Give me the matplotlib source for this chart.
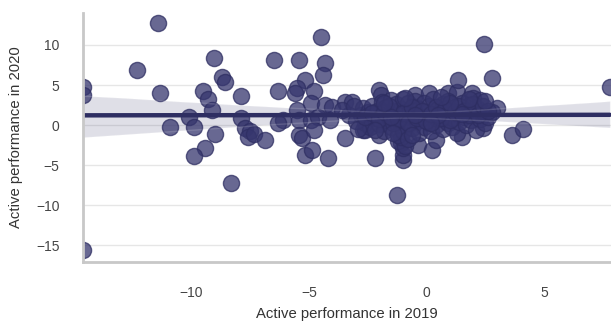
import matplotlib
matplotlib.use("Agg")
import matplotlib.pyplot as plt
import seaborn as sns
import pandas as pd

# active performance per fund, 2019 vs 2020
perf_2019 = [
    -14.6, -14.6, -14.6,
    -11.4, -12.3, -11.35, -10.9,
    -9.05, -8.7, -8.55, -9.5, -9.3, -9.1,
    -10.1, -9.9, -9.0, -9.4, -9.9, -8.3,
    -7.9, -7.9, -7.7, -7.5, -7.6, -7.35, -6.85,
    -6.5, -6.3, -5.4, -4.5, -4.3, -4.4,
    -5.15, -5.5, -5.6, -4.8, -4.9, -4.3, -4.0,
    -3.45, -3.15, -5.5, -6.1, -6.3, -5.4, -4.9, -4.6,
    -5.4, -5.3, -4.8, -4.1, -3.45, -5.15, -4.85, -4.2,
    -2.7, -2.6, -2.0, -2.2, -1.0, -1.0, -1.23, -1.1,
    -2.0, -1.95, -0.5, 0.1, 0.9, 1.3, 1.95, 2.0,
    1.36, 2.47, 2.77, 3.0, 2.4, 3.66, 4.1, 7.8,
    -0.35, 0.25, 0.4, 1.5, -1.0, -1.2, -0.9, -1.1,
    -2.8, -2.7, -2.6, -2.5, -2.4, -2.3, -2.2, -2.1, -2.0, -1.9,
    -1.9, -1.8, -1.7, -1.7, -1.6, -1.5, -1.5, -1.4, -1.3, -1.3,
    -1.2, -1.2, -1.1, -1.1, -1.0, -1.0, -0.9, -0.9, -0.8, -0.8,
    -0.7, -0.7, -0.6, -0.6, -0.5, -0.5, -0.4, -0.4, -0.3, -0.3,
    -0.2, -0.1, -0.1, 0.0, 0.1, 0.1, 0.2, 0.3, 0.3, 0.4,
    0.5, 0.5, 0.6, 0.7, 0.7, 0.8, 0.9, 0.9, 1.0, 1.1,
    1.1, 1.2, 1.3, 1.3, 1.4, 1.5, 1.6, 1.7, 1.7, 1.8,
    1.9, 2.0, 2.1, 2.2, 2.3, 2.4, 2.5, 2.6, 2.8, 2.3,
    -3.3, -3.0, -2.9, -3.6, -3.1,
    -2.6, -2.3, -2.0, -1.8, -1.6, -1.4, -1.2, -1.0, -0.8, -0.6,
    -0.4, -0.2, 0.0, 0.2, 0.4, 0.6, 0.8, 1.0, 1.2, 1.4,
    1.6, 1.8, 2.0, 2.2, 2.4, 2.6, -1.5, -0.5, 0.5, 1.5,
    -2.2, -1.4, -0.6, 0.2, 1.0, 1.8, 2.5, -1.8, -0.9, 0.6,
]
perf_2020 = [
    4.75, 3.75, -15.6,
    12.75, 6.9, 4.0, -0.25,
    8.4, 6.0, 5.4, 4.25, 3.25, 1.9,
    1.0, -0.25, -1.1, -2.9, -3.9, -7.25,
    3.6, 0.9, -0.4, -0.7, -1.5, -1.1, -1.9,
    8.1, 4.25, 8.1, 11.0, 7.75, 6.25,
    5.6, 4.6, 4.0, 4.25, 2.75, 2.5, 2.25,
    2.9, 2.9, 1.9, 0.6, 0.25, 0.6, 0.6, 1.0,
    -1.25, -1.6, -0.6, 0.6, -1.6, -3.75, -3.1, -4.1,
    -0.6, -0.6, -1.25, -4.1, -4.4, -3.75, -8.75, -2.25,
    4.4, 3.75, 3.75, 4.0, 4.0, 4.1, 4.0, 3.4,
    5.6, 10.1, 5.9, 2.1, -0.4, -1.25, -0.5, 4.75,
    -2.5, -3.1, -1.9, -1.5, -2.8, -2.0, -2.6, -1.5,
    1.2, 2.1, 0.3, 1.6, -0.2, 2.4, 0.9, 1.8, 0.1, 2.9,
    1.3, -0.8, 0.6, 2.2, 1.0, -0.3, 3.1, 1.7, 0.4, 2.6,
    -1.3, 1.2, 0.0, 2.0, 3.3, -0.7, 1.5, 0.6, 2.7, -1.8,
    0.2, 1.9, 1.0, -0.4, 2.3, 3.0, 0.5, 1.4, -1.0, 2.0,
    0.9, 2.8, -0.2, 1.6, 0.3, 2.4, -0.8, 1.1, 3.2, 0.0,
    2.0, 0.7, 1.5, -0.5, 2.6, 1.0, 0.2, 3.0, 1.8, -0.2,
    0.9, 2.3, 1.4, -1.0, 0.4, 2.8, 1.0, 0.0, 1.9, 2.5,
    0.6, 1.4, -0.6, 2.0, 0.8, 1.6, 0.2, 1.0, 1.6, 3.1,
    1.3, 0.5, -0.5, 1.9, 2.4,
    1.0, 1.5, 0.8, 1.6, 2.4, 0.2, 0.8, 1.5, 0.3, 2.2,
    0.9, 1.8, 0.5, 1.4, 2.2, 0.9, 2.0, 0.6, 1.6, 2.4,
    1.8, 1.2, 2.6, 1.2, 2.4, 1.8, 1.0, 1.2, 1.2, 1.4,
    -0.6, -1.0, -1.2, 0.2, 2.8, 3.2, 3.0, 2.8, 3.4, 3.5,
]

df = pd.DataFrame({"x": perf_2019, "y": perf_2020})

sns.set_style("whitegrid")
plt.rcParams["font.family"] = ["Liberation Sans", "DejaVu Sans"]

fig = plt.figure(figsize=(6.11, 3.22), dpi=100)
ax = fig.add_axes([0.136, 0.186, 0.864, 0.774])

navy = "#36366e"
sns.regplot(
    data=df, x="x", y="y", ax=ax, color=navy, seed=3,
    scatter_kws={"s": 135, "alpha": 0.75, "edgecolor": "#2e2e62", "linewidths": 1.0},
    line_kws={"lw": 3.2, "color": "#2e2e62"},
)

ax.set_xlim(-14.6, 7.85)
ax.set_ylim(-17.1, 14.0)
ax.set_xticks([-10, -5, 0, 5])
ax.set_yticks([-15, -10, -5, 0, 5, 10])
ax.set_xticklabels(["\u221210", "\u22125", "0", "5"])
ax.set_yticklabels(["\u221215", "\u221210", "\u22125", "0", "5", "10"])

ax.grid(axis="x", visible=False)
ax.grid(axis="y", color="#e6e6e6", lw=1.0)
for side in ["top", "right"]:
    ax.spines[side].set_visible(False)
for side in ["left", "bottom"]:
    ax.spines[side].set_color("#c8c8c8")
    ax.spines[side].set_linewidth(2.0)

ax.tick_params(axis="both", length=0, labelsize=10, labelcolor="#444444")
ax.tick_params(axis="x", pad=17)
ax.tick_params(axis="y", pad=17)
ax.set_xlabel("Active performance in 2019", fontsize=10.7, color="#333333", labelpad=5)
ax.set_ylabel("Active performance in 2020", fontsize=10.7, color="#333333", labelpad=9)

fig.savefig("out.png", dpi=100)
